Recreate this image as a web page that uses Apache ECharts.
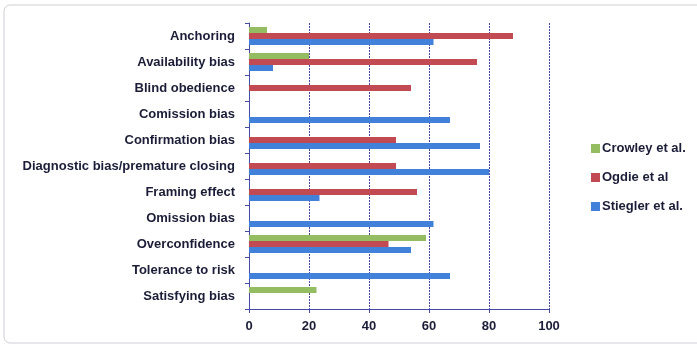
<!DOCTYPE html>
<html>
<head>
<meta charset="utf-8">
<script src="https://cdn.jsdelivr.net/npm/echarts@6/dist/echarts.min.js"></script>
<style>
  html, body { margin: 0; padding: 0; background: #ffffff; }
  #chart { width: 697px; height: 347px; }
</style>
</head>
<body>
<div id="chart"></div>
<script>
// Cognitive biases reported by each study (percent)
const categories = [
  'Anchoring',
  'Availability bias',
  'Blind obedience',
  'Comission bias',
  'Confirmation bias',
  'Diagnostic bias/premature closing',
  'Framing effect',
  'Omission bias',
  'Overconfidence',
  'Tolerance to risk',
  'Satisfying bias'
];
const seriesNames = ['Crowley et al.', 'Ogdie et al', 'Stiegler et al.'];
const crowley  = [6, 20, null, null, null, null, null, null, 59, null, 22.5];
const ogdie    = [88, 76, 54, null, 49, 49, 56, null, 46.5, null, null];
const stiegler = [61.5, 8, null, 67, 77, 80, 23.5, 61.5, 54, 67, null];
const xTicks = [0, 20, 40, 60, 80, 100];

const colors = ['#94bd62', '#c24a52', '#4281d9'];
const font = '"Liberation Sans", Arial, sans-serif';
const axisColor = '#454aa6';
const textColor = '#1b1d38';

const chart = echarts.init(document.getElementById('chart'));
chart.setOption({
  backgroundColor: '#ffffff',
  animation: false,
  color: colors,
  graphic: [{
    type: 'rect',
    shape: { x: 4, y: 5, width: 720, height: 338, r: 6 },
    style: { fill: 'none', stroke: '#cfcfd6', lineWidth: 1 },
    silent: true
  }],
  grid: { left: 249, right: 148, top: 23, bottom: 38 },
  legend: {
    orient: 'vertical',
    left: 586,
    top: 137,
    itemWidth: 9,
    itemHeight: 9,
    itemGap: 16,
    icon: 'rect',
    textStyle: { fontFamily: font, fontSize: 13, fontWeight: 'bold', color: textColor, padding: [0, 0, 0, -3] },
    data: seriesNames
  },
  xAxis: {
    type: 'value',
    min: xTicks[0],
    max: xTicks[xTicks.length - 1],
    interval: 20,
    axisLine: { show: true, lineStyle: { color: axisColor, width: 1 } },
    axisTick: { show: true, length: 4, lineStyle: { color: axisColor } },
    splitLine: { show: true, lineStyle: { color: axisColor, type: [2, 1], width: 1 } },
    axisLabel: { fontFamily: font, fontSize: 13, fontWeight: 'bold', color: textColor, margin: 11 }
  },
  yAxis: {
    type: 'category',
    data: categories,
    inverse: true,
    axisLine: { show: true, lineStyle: { color: axisColor, width: 1 } },
    axisTick: { show: true, length: 4, lineStyle: { color: axisColor } },
    axisLabel: { fontFamily: font, fontSize: 13, fontWeight: 'bold', color: textColor, margin: 14 }
  },
  series: [
    { name: seriesNames[0], type: 'bar', data: crowley, barWidth: 6, barGap: '0%', barCategoryGap: '34%' },
    { name: seriesNames[1], type: 'bar', data: ogdie, barWidth: 6, barGap: '0%', barCategoryGap: '34%' },
    { name: seriesNames[2], type: 'bar', data: stiegler, barWidth: 6, barGap: '0%', barCategoryGap: '34%' }
  ]
});
</script>
</body>
</html>
